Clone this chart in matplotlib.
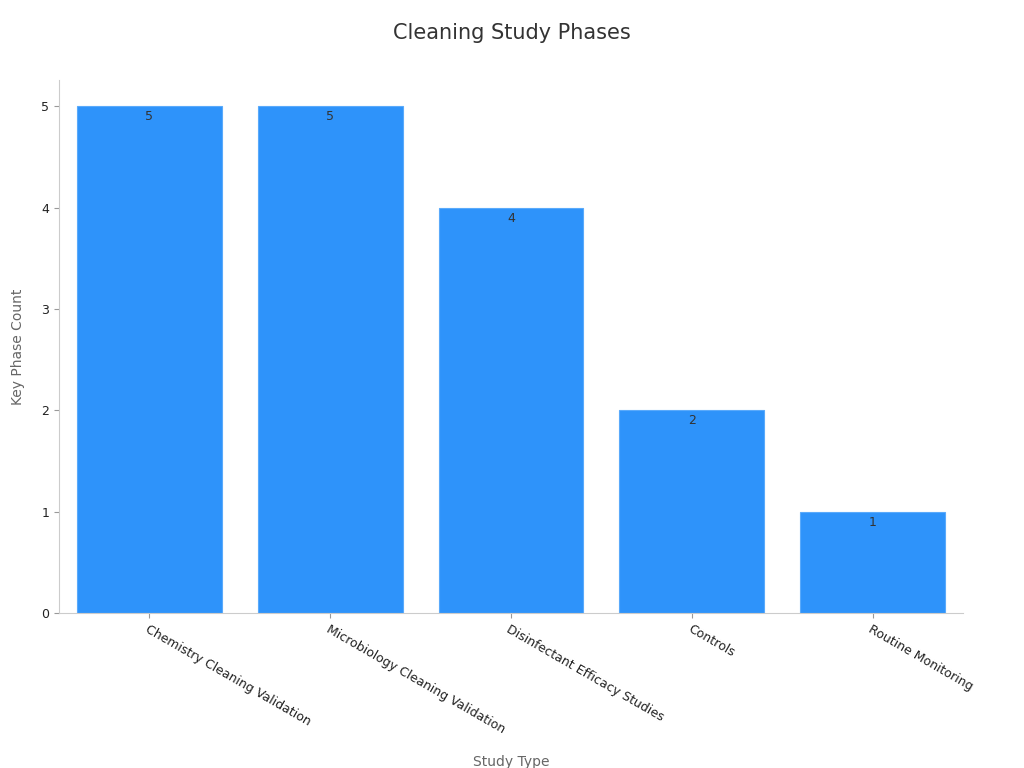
import matplotlib
matplotlib.use("Agg")
import matplotlib.pyplot as plt

categories = ["Chemistry Cleaning Validation", "Microbiology Cleaning Validation",
              "Disinfectant Efficacy Studies", "Controls", "Routine Monitoring"]
values = [5, 5, 4, 2, 1]

fig = plt.figure(figsize=(10.24, 7.68), dpi=100)
ax = fig.add_axes([59/1024, 1-613/768, (963-59)/1024, (613-80)/768])
x = range(len(categories))
bars = ax.bar(x, values, width=0.8, color="#2E93FA", edgecolor="#5aaafb", linewidth=0.8)
for i, v in zip(x, values):
    ax.text(i, v - 0.04, str(v), ha="center", va="top", fontsize=9, color="#333333")
ax.set_xlim(-0.5, 4.5)
ax.set_ylim(0, 5.26)
ax.set_yticks([0, 1, 2, 3, 4, 5])
ax.set_xticks(list(x))
ax.set_xticklabels(categories, rotation=-30, ha="left", rotation_mode="anchor", fontsize=9, color="#222222")
ax.tick_params(axis="y", labelsize=9, colors="#222222")
ax.tick_params(color="#999999")
for s in ["top", "right"]:
    ax.spines[s].set_visible(False)
for s in ["left", "bottom"]:
    ax.spines[s].set_color("#cccccc")
ax.set_xlabel("Study Type", fontsize=10, color="#666666", labelpad=14)
ax.set_ylabel("Key Phase Count", fontsize=10, color="#666666", labelpad=12)
fig.text(0.5, 1-33/768, "Cleaning Study Phases", ha="center", va="center", fontsize=15, color="#333333")
fig.savefig("out.png", dpi=100)
